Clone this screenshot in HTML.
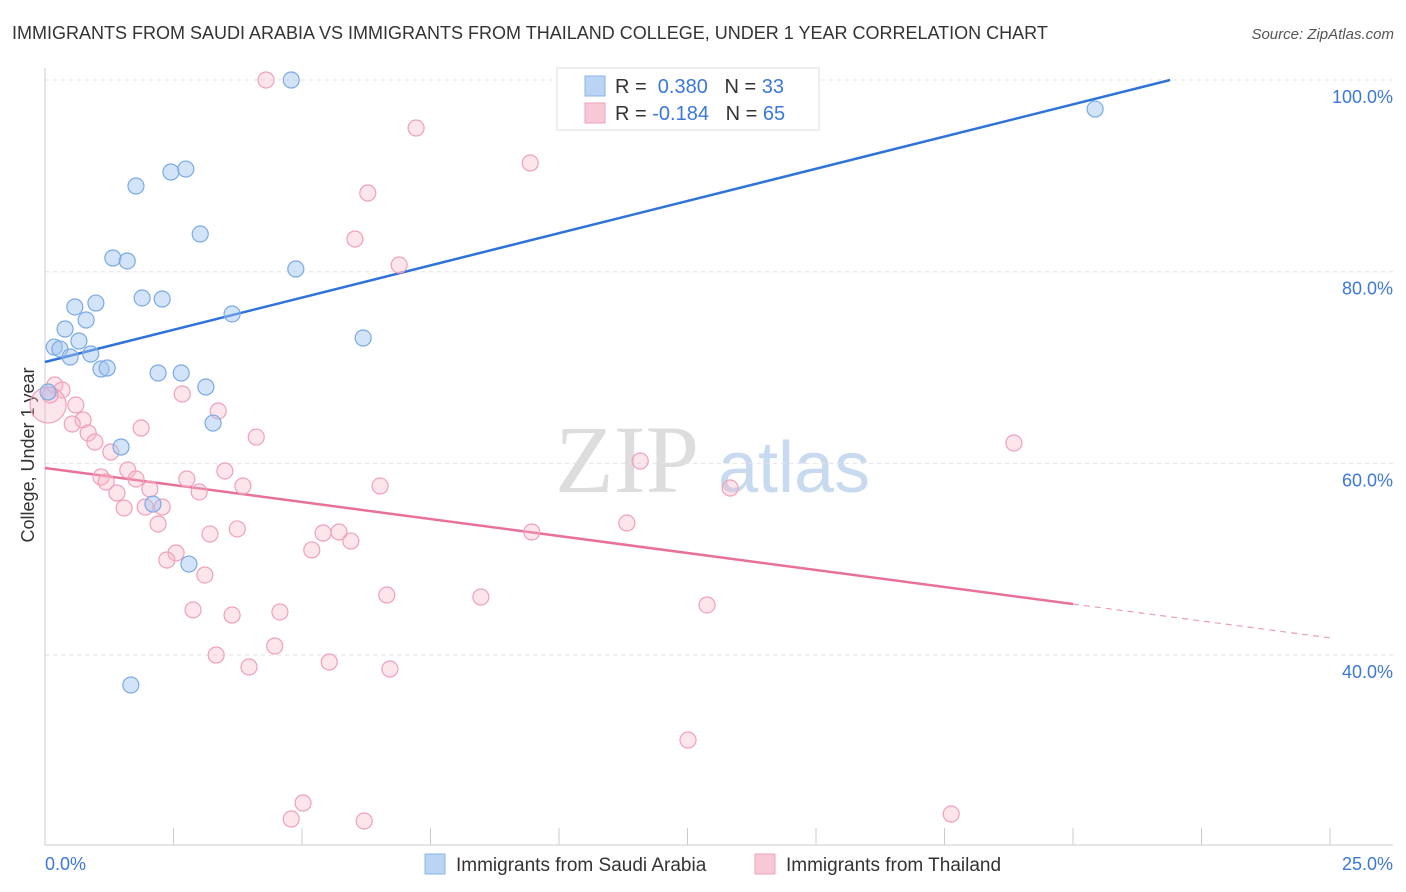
<!DOCTYPE html>
<html><head><meta charset="utf-8">
<style>
body{margin:0;background:#fff;font-family:"Liberation Sans",sans-serif;}
#wrap{position:relative;width:1406px;height:892px;overflow:hidden;}
</style></head>
<body>
<div id="wrap">
<svg id="svg" width="1406" height="892">
<text x="12" y="39" font-size="18" fill="#333">IMMIGRANTS FROM SAUDI ARABIA VS IMMIGRANTS FROM THAILAND COLLEGE, UNDER 1 YEAR CORRELATION CHART</text>
<text x="1394" y="39" font-size="15" fill="#555" font-style="italic" text-anchor="end">Source: ZipAtlas.com</text>
<text x="555" y="492" font-size="96" fill="#ddd" font-family="Liberation Serif,serif">ZIP</text>
<text x="718" y="492" font-size="72" fill="#c8daf0">atlas</text>
<text transform="translate(34,455) rotate(-90)" font-size="18" fill="#333" text-anchor="middle">College, Under 1 year</text>
<g id="grid"></g><g id="lines"></g><g id="pts"></g>
<g>
<rect x="557" y="68" width="262" height="62" fill="#fff" stroke="#ddd"/>
<rect x="585" y="76" width="20" height="20" fill="#bcd4f4" stroke="#8ab4e8"/>
<rect x="585" y="103" width="20" height="20" fill="#f9c8d6" stroke="#f0a0b8"/>
<text x="615" y="93" font-size="20" fill="#333">R = <tspan fill="#3b78d8">&#160;0.380</tspan>&#160;&#160;&#160;N = <tspan fill="#3b78d8">33</tspan></text>
<text x="615" y="120" font-size="20" fill="#333">R = <tspan fill="#3b78d8">-0.184</tspan>&#160;&#160;&#160;N = <tspan fill="#3b78d8">65</tspan></text>
</g>
<g>
<rect x="425" y="854" width="20" height="20" fill="#bcd4f4" stroke="#8ab4e8"/>
<text x="456" y="871" font-size="19" fill="#333">Immigrants from Saudi Arabia</text>
<rect x="755" y="854" width="20" height="20" fill="#f9c8d6" stroke="#f0a0b8"/>
<text x="786" y="871" font-size="19" fill="#333">Immigrants from Thailand</text>
</g>
<text x="45" y="870" font-size="18" fill="#3b78d8">0.0%</text>
<text x="1393" y="870" font-size="18" fill="#3b78d8" text-anchor="end">25.0%</text>
</svg>
</div>
<script>
const blueX=[4.79,20.43,1.77,2.45,2.74,3.02,1.32,1.60,4.88,1.89,2.28,0.58,0.99,0.80,3.64,0.39,0.66,0.18,0.29,0.49,0.89,6.19,1.09,1.21,2.20,2.65,3.13,3.27,1.48,2.10,2.80,1.67,0.06];
const blueY=[100,96.97,88.94,90.40,90.71,83.93,81.43,81.12,80.28,77.26,77.15,76.32,76.73,74.96,75.59,74.02,72.77,72.14,71.94,71.10,71.41,73.08,69.85,69.95,69.43,69.43,67.97,64.21,61.71,55.76,49.50,36.88,67.45];
const pinkX=[4.30,7.22,9.44,6.28,6.03,6.89,0.19,0.33,0.06,0.60,0.74,0.53,0.84,0.97,1.28,1.87,2.67,3.37,4.11,1.09,1.19,1.61,1.77,1.40,2.04,1.54,1.95,2.28,2.20,2.76,3.00,3.50,3.85,3.21,3.74,2.55,2.37,3.11,5.41,5.72,5.95,5.19,6.52,9.47,11.32,11.58,13.33,18.85,2.88,3.64,4.57,6.65,8.48,12.88,3.33,4.47,3.97,5.53,6.71,12.51,5.02,4.79,6.21,17.63,0.10];
const pinkY=[100,94.99,91.34,88.21,83.41,80.70,68.18,67.66,66.09,66.09,64.53,64.11,63.17,62.23,61.19,63.69,67.24,65.47,62.75,58.58,58.06,59.31,58.37,56.91,57.33,55.35,55.45,55.45,53.68,58.37,57.02,59.21,57.64,52.63,53.16,50.65,49.92,48.36,52.74,52.84,51.90,50.97,57.64,52.84,53.78,60.25,57.43,62.13,44.71,44.18,44.50,46.27,46.06,45.23,40.01,40.95,38.76,39.28,38.55,31.14,24.57,22.90,22.69,23.42,67.14];
const yTicks=[100,80,60,40];
const yTickLabels=["100.0%","80.0%","60.0%","40.0%"];
const xTicks=[0,2.5,5,7.5,10,12.5,15,17.5,20,22.5,25];
const blueTrend=[[0,70.58],[21.89,100]];
const pinkTrend=[[0,59.52],[20,45.33]];
const pinkDash=[[20,45.33],[25,41.8]];
const X=v=>45+v*51.4, Y=v=>80+(100-v)*9.585;
const NS="http://www.w3.org/2000/svg";
function mk(t,a,p){const e=document.createElementNS(NS,t);for(const k in a)e.setAttribute(k,a[k]);p.appendChild(e);return e;}
const g=document.getElementById('grid'),ln=document.getElementById('lines'),pt=document.getElementById('pts');
yTicks.forEach((v,i)=>{
 const l=mk('line',{x1:45,x2:1393,y1:Y(v),y2:Y(v),stroke:'#e4e4e4','stroke-dasharray':'4,4'},g);
 
 
 const t=mk('text',{x:1393,y:Y(v)+23,'font-size':18,fill:'#3b78d8','text-anchor':'end'},g);
 t.textContent=yTickLabels[i];
 
 
});
const ax=mk('line',{x1:45,x2:1393,y1:845,y2:845,stroke:'#ccc'},g);


const ay=mk('line',{x1:45,x2:45,y1:68,y2:845,stroke:'#ccc'},g);


xTicks.forEach(v=>{
 const t=mk('line',{x1:X(v),x2:X(v),y1:828,y2:845,stroke:'#ccc'},g);
 
 
});
function seg(d,col,w,dash,name){const e=mk('line',{x1:X(d[0][0]),y1:Y(d[0][1]),x2:X(d[1][0]),y2:Y(d[1][1]),stroke:col,'stroke-width':w},ln);if(dash)e.setAttribute('stroke-dasharray',dash);
 
 }
seg(blueTrend,'#2f73d8',2.5,null,'blue-trend-line');
seg(pinkTrend,'#e8709a',2.5,null,'pink-trend-line');
seg(pinkDash,'#e8a0b8',1.2,'6,5','pink-trend-extension');
pinkX.forEach((v,i)=>{
 const c=mk('circle',{cx:X(v),cy:Y(pinkY[i]),r:i==8?18:8,fill:'rgba(248,180,200,0.35)',stroke:'#f0a0b8','stroke-width':1.2},pt);
 
 
});
blueX.forEach((v,i)=>{
 const c=mk('circle',{cx:X(v),cy:Y(blueY[i]),r:8,fill:'rgba(160,196,240,0.45)',stroke:'#7aaae6','stroke-width':1.2},pt);
 
 
});
</script>
</body></html>
